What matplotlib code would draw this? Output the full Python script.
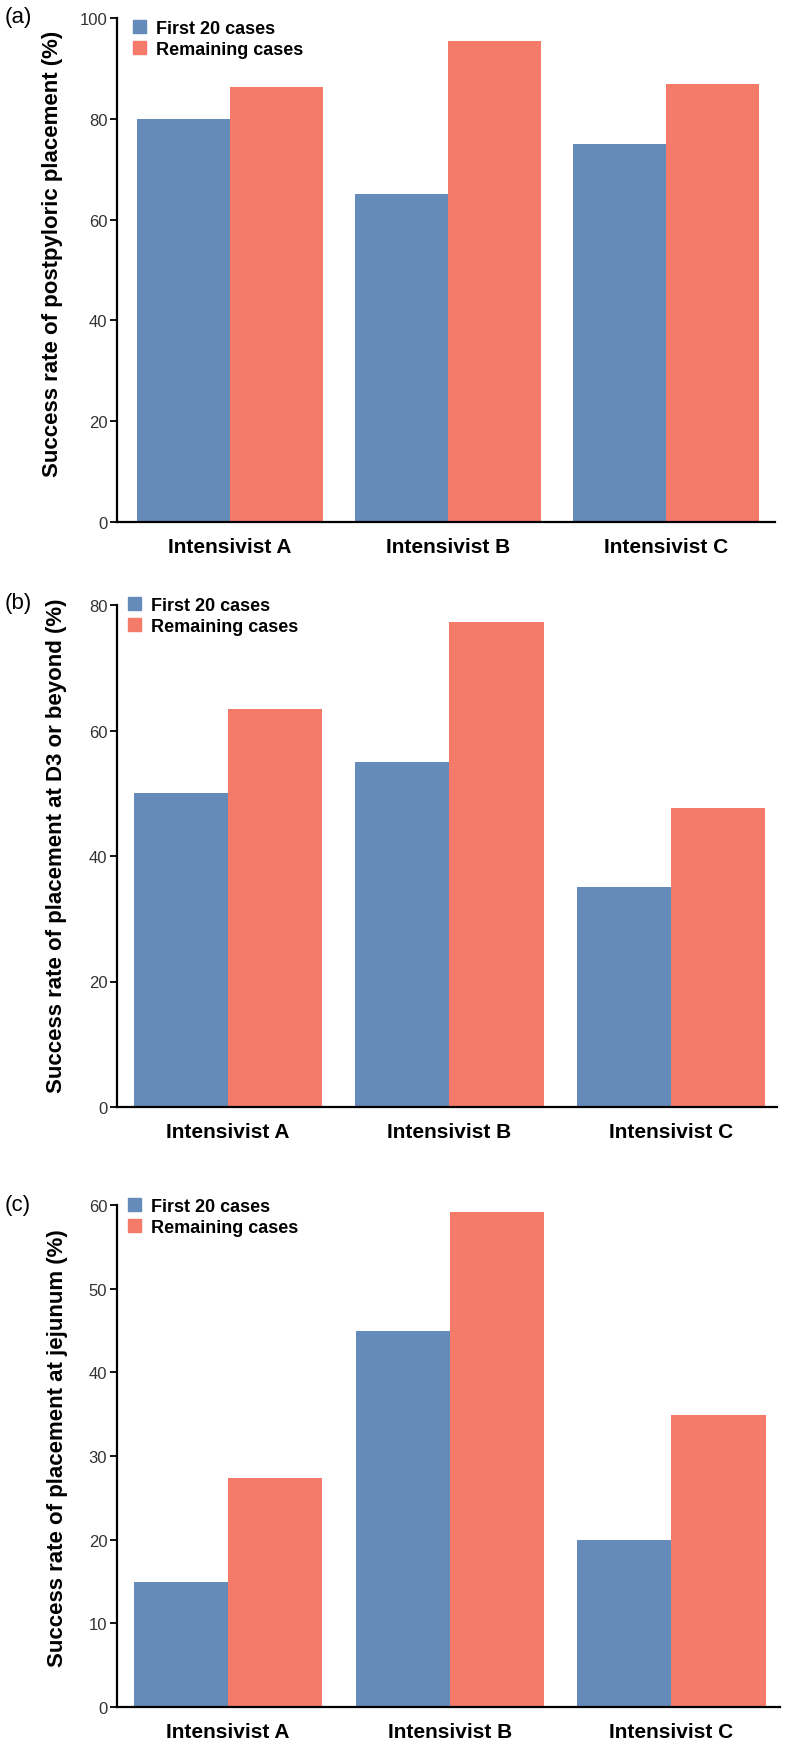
import numpy as np
import matplotlib.pyplot as plt
from matplotlib.patches import Patch

plt.rcParams['font.family'] = ['Liberation Sans', 'DejaVu Sans']

groups = ['Intensivist A', 'Intensivist B', 'Intensivist C']
series = ['First 20 cases', 'Remaining cases']

first_a = [80, 65, 75]
remain_a = [86.3, 95.4, 86.9]
first_b = [50, 55, 35]
remain_b = [63.5, 77.3, 47.6]
first_c = [15, 45, 20]
remain_c = [27.4, 59.2, 34.9]

ylabels = ['Success rate of postpyloric placement (%)',
           'Success rate of placement at D3 or beyond (%)',
           'Success rate of placement at jejunum (%)']
panel_tags = ['(a)', '(b)', '(c)']
ymax = [100, 80, 60]
ystep = [20, 20, 10]

blue = '#658BBA'
red = '#F47A6A'

W, H = 794, 1749
fig = plt.figure(figsize=(W / 100, H / 100), dpi=100)

# axes boxes in pixels: left, right, top, bottom
boxes = [(117, 775, 19, 523), (117, 777, 606, 1108), (117, 780, 1206, 1708)]
xlims = [(-0.518, 2.5), (-0.501, 2.479), (-0.501, 2.49)]
ylab_pos = [(53, 254), (57, 846), (58, 1448)]
tag_y = [17, 604, 1205]
leg_x = [133, 128, 128]
leg_top = [21, 598, 1199]

data = [(first_a, remain_a), (first_b, remain_b), (first_c, remain_c)]
w = 0.425
x = np.arange(len(groups))

for k in range(3):
    l, r, t, b = boxes[k]
    ax = fig.add_axes([l / W, 1 - b / H, (r - l) / W, (b - t) / H])
    f, rm = data[k]
    ax.bar(x - w / 2, f, w, color=blue, label=series[0])
    ax.bar(x + w / 2, rm, w, color=red, label=series[1])
    ax.set_xlim(*xlims[k])
    ax.set_ylim(0, ymax[k])
    ax.set_yticks(np.arange(0, ymax[k] + 1, ystep[k]))
    ax.set_xticks(x)
    ax.set_xticklabels(groups, fontsize=15, fontweight='bold')
    ax.tick_params(axis='x', length=0, pad=11)
    ax.tick_params(axis='y', length=5, width=1.3, pad=2, labelsize=12,
                   labelcolor='#333333')
    for s in ['top', 'right']:
        ax.spines[s].set_visible(False)
    for s in ['left', 'bottom']:
        ax.spines[s].set_linewidth(1.6)

    handles = [Patch(color=blue, label=series[0]),
               Patch(color=red, label=series[1])]
    ax.legend(handles=handles, loc='upper left',
              bbox_to_anchor=((leg_x[k] - l) / (r - l), (b - leg_top[k]) / (b - t)),
              frameon=False, borderaxespad=0, borderpad=0,
              handlelength=0.7, handleheight=0.7, handletextpad=0.6,
              labelspacing=0.2, prop={'weight': 'bold', 'size': 13})

    fig.text(ylab_pos[k][0] / W, 1 - ylab_pos[k][1] / H, ylabels[k],
             rotation=90, ha='center', va='center', fontsize=16,
             fontweight='bold')
    fig.text(18 / W, 1 - tag_y[k] / H, panel_tags[k], ha='center',
             va='center', fontsize=16)

fig.savefig('out.png', dpi=100, facecolor='white')
